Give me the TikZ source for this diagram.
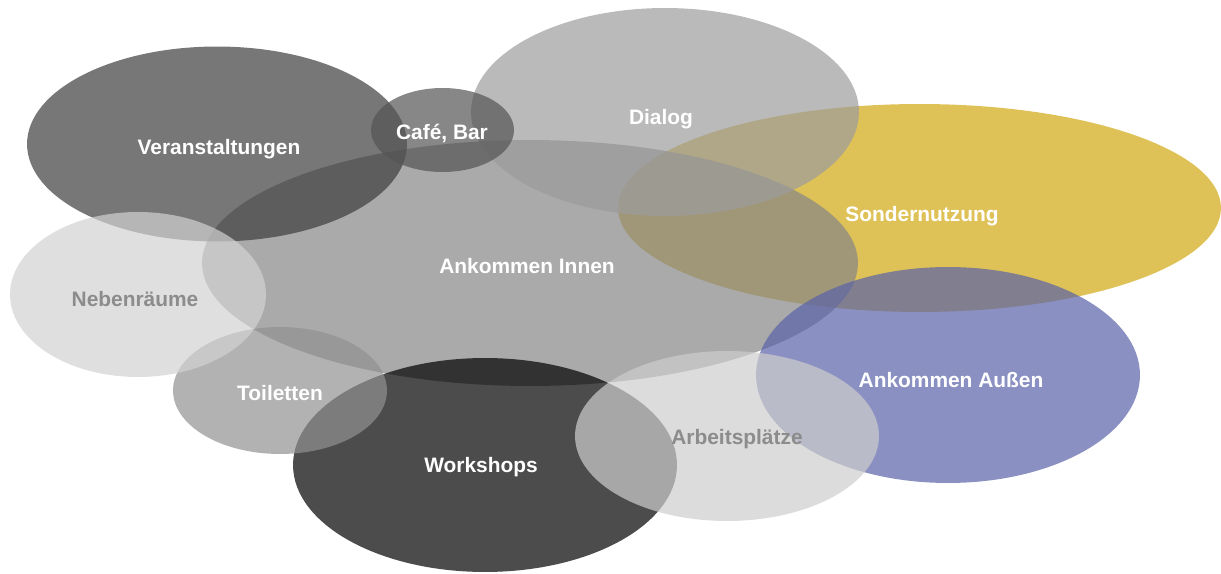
\documentclass[tikz,border=0pt]{standalone}
\usepackage{fontspec}
\setmainfont{Liberation Sans}
\usepackage{tikz}
\usepackage{color}
\usetikzlibrary{shapes.geometric}

\definecolor{veranstgrau}{HTML}{3D3D3D}
\definecolor{cafegrau}{HTML}{545454}
\definecolor{dialoggrau}{HTML}{9C9C9C}
\definecolor{sondergelb}{HTML}{D2A810}
\definecolor{innengrau}{HTML}{868686}
\definecolor{nebengrau}{HTML}{D2D2D2}
\definecolor{toilgrau}{HTML}{919191}
\definecolor{arbeitgrau}{HTML}{CDCDCD}
\definecolor{aussenblau}{HTML}{5962A8}
\definecolor{schriftgrau}{HTML}{8C8C8C}

\begin{document}
\begin{tikzpicture}[x=0.02cm,y=-0.02cm,
blob/.style={ellipse,inner sep=0pt,fill opacity=0.7},
lbl/.style={font=\bfseries\fontsize{11.9}{14}\selectfont,text=white,inner sep=0pt},
lblgrau/.style={lbl,text=schriftgrau}]
\useasboundingbox (0,0) rectangle (1221,574);
\node at (919.5,208)[blob,minimum width=12.06cm,minimum height=4.16cm,fill=sondergelb](sonder){};
\node at (530,263)[blob,minimum width=13.12cm,minimum height=4.92cm,fill=innengrau](innen){};
\node at (217,144)[blob,minimum width=7.6cm,minimum height=3.9cm,fill=veranstgrau](veranst){};
\node at (665,112)[blob,minimum width=7.76cm,minimum height=4.16cm,fill=dialoggrau](dialog){};
\node at (442.5,130)[blob,minimum width=2.86cm,minimum height=1.68cm,fill=cafegrau](cafe){};
\node at (485,465)[blob,minimum width=7.68cm,minimum height=4.28cm,fill=black](workshops){};
\node at (280,390.5)[blob,minimum width=4.28cm,minimum height=2.54cm,fill=toilgrau](toiletten){};
\node at (138,294.5)[blob,minimum width=5.12cm,minimum height=3.3cm,fill=nebengrau](neben){};
\node at (948,375)[blob,minimum width=7.68cm,minimum height=4.32cm,fill=aussenblau](aussen){};
\node at (727,436)[blob,minimum width=6.08cm,minimum height=3.4cm,fill=arbeitgrau](arbeit){};

\node at (922,216)[lbl](sondertxt){Sondernutzung};
\node at (527,266)[lbl](innentxt){Ankommen Innen};
\node at (219,149)[lbl](veransttxt){Veranstaltungen};
\node at (661,119)[lbl](dialogtxt){Dialog};
\node at (442,133)[lbl](cafetxt){Café, Bar};
\node at (481,467)[lbl](workshopstxt){Workshops};
\node at (280,393)[lbl](toilettentxt){Toiletten};
\node at (135,299)[lblgrau](nebentxt){Nebenräume};
\node at (951,380)[lbl](aussentxt){Ankommen Außen};
\node at (737,439)[lblgrau](arbeittxt){Arbeitsplätze};
\end{tikzpicture}
\end{document}
